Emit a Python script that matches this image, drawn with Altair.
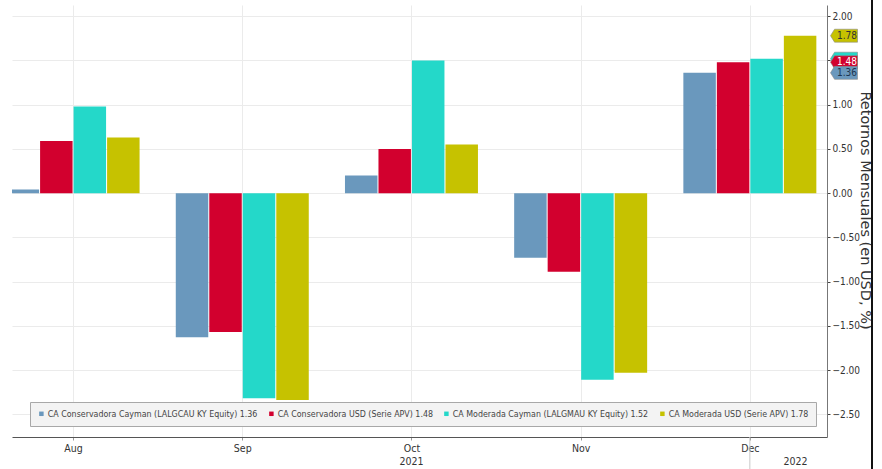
import altair as alt
import pandas as pd

months = ["Aug", "Sep", "Oct", "Nov", "Dec"]
series = [
    "CA Conservadora Cayman (LALGCAU KY Equity) 1.36",
    "CA Conservadora USD (Serie APV) 1.48",
    "CA Moderada Cayman (LALGMAU KY Equity) 1.52",
    "CA Moderada USD (Serie APV) 1.78",
]
colors = ["#6a98bd", "#d2002e", "#24d8c9", "#c6c200"]
cons_cayman = [0.04, -1.63, 0.20, -0.73, 1.36]
cons_usd = [0.59, -1.57, 0.50, -0.89, 1.48]
mod_cayman = [0.98, -2.32, 1.50, -2.11, 1.52]
mod_usd = [0.63, -2.34, 0.55, -2.03, 1.78]
last_values = [1.36, 1.48, 1.52, 1.78]
last_labels = ["1.36", "1.48", "", "1.78"]
tag_text_colors = ["#1d3550", "#ffffff", "#1d3550", "#333333"]
tag_draw_order = [2, 1, 0, 3]
years = ["2021", "2022"]
year_pos = [2.0, 4.27]

all_vals = [cons_cayman, cons_usd, mod_cayman, mod_usd]
bw = 0.198
rows = []
for i, s in enumerate(series):
    for m, v in enumerate(all_vals[i]):
        rows.append({
            "series": s,
            "month": m,
            "value": v,
            "x0": m + (i - 2) * bw + 0.003,
            "x1": m + (i - 1) * bw - 0.003,
        })
df = pd.DataFrame(rows)

year_df = pd.DataFrame({"year": years, "pos": year_pos})

FONT = "DejaVu Sans Condensed, Liberation Sans, Arial, sans-serif"
xdom = [-0.361, 4.456]
ydom = [-2.757, 2.127]

xscale = alt.Scale(domain=xdom, nice=False, zero=False)
yscale = alt.Scale(domain=ydom, nice=False, zero=False)
cscale = alt.Scale(domain=series, range=colors)

color = alt.Color(
    "series:N",
    scale=cscale,
    legend=alt.Legend(
        title=None,
        orient="none",
        legendX=18,
        legendY=397,
        direction="horizontal",
        columns=4,
        fillColor="#f3f3f3",
        strokeColor="#a8a8a8",
        padding=7,
        symbolType="square",
        symbolSize=20,
        symbolStrokeWidth=0,
        symbolOffset=0,
        labelFont=FONT,
        labelFontSize=8.8,
        labelColor="#444444",
        labelLimit=0,
        labelOffset=2,
        columnPadding=9,
    ),
)

bars = alt.Chart(df).mark_bar(clip=True).encode(
    x=alt.X(
        "x0:Q",
        scale=xscale,
        axis=alt.Axis(
            values=[0, 1, 2, 3, 4],
            labelExpr="['Aug','Sep','Oct','Nov','Dec'][datum.value]",
            title=None,
            grid=True,
            gridColor="#ebebeb",
            domainColor="#555555",
            tickColor="#999999",
            tickSize=3,
            labelFont=FONT,
            labelFontSize=10.5,
            labelColor="#333333",
            labelPadding=3,
        ),
    ),
    x2="x1:Q",
    y=alt.Y(
        "value:Q",
        scale=yscale,
        axis=alt.Axis(
            orient="right",
            values=[-2.5, -2.0, -1.5, -1.0, -0.5, 0.0, 0.5, 1.0, 1.5, 2.0],
            labelExpr="datum.value == 1.5 ? '' : format(datum.value, '.2f')",
            title="Retornos Mensuales (en USD, %)",
            titleFont="DejaVu Sans",
            titleFontSize=14.5,
            titleFontWeight="normal",
            titleColor="#333333",
            titleAngle=90,
            titleAlign="center",
            titleBaseline="middle",
            titleX=37.5,
            titleY=205,
            grid=True,
            gridColor="#ebebeb",
            domainColor="#777777",
            tickColor="#444444",
            tickSize=3,
            labelFont=FONT,
            labelFontSize=10,
            labelColor="#333333",
            labelPadding=2,
        ),
    ),
    y2=alt.datum(0),
    color=color,
)

tag_shape = "M-1,0 L-0.7,-0.48 L1,-0.48 L1,0.48 L-0.7,0.48 Z"
tag_layers = []
for k in tag_draw_order:
    tdf = pd.DataFrame({
        "series": [series[k]],
        "value": [last_values[k]],
        "label": [last_labels[k]],
        "tcolor": [tag_text_colors[k]],
    })
    shape = alt.Chart(tdf).mark_point(
        shape=tag_shape, filled=True, size=729, opacity=1,
        stroke="#8a8a8a", strokeWidth=0.6,
    ).encode(
        x=alt.value(832),
        y=alt.Y("value:Q", scale=yscale),
        color=alt.Color("series:N", scale=cscale, legend=None),
    )
    tag_layers.append(shape)
    if last_labels[k]:
        txt = alt.Chart(tdf).mark_text(
            font=FONT, fontSize=10, align="center", baseline="middle"
        ).encode(
            x=alt.value(835),
            y=alt.Y("value:Q", scale=yscale),
            text="label:N",
            color=alt.Color("tcolor:N", scale=None),
        )
        tag_layers.append(txt)

year_text = alt.Chart(year_df).mark_text(
    font=FONT, fontSize=10.5, color="#333333", baseline="middle"
).encode(
    x=alt.X("pos:Q", scale=xscale),
    y=alt.value(457),
    text="year:N",
)

sep_rule = alt.Chart(pd.DataFrame({"pos": [4]})).mark_rule(color="#c8c8c8").encode(
    x=alt.X("pos:Q", scale=xscale),
    y=alt.value(432),
    y2=alt.value(470),
)

border = alt.Chart(pd.DataFrame({"a": [0]})).mark_rule(color="#111111", strokeWidth=2).encode(
    x=alt.value(860),
    y=alt.value(-6),
    y2=alt.value(470),
)

chart = alt.layer(bars, sep_rule, year_text, *tag_layers, border).properties(
    width=815,
    height=432,
    autosize=alt.AutoSizeParams(type="none"),
    padding={"left": 12, "top": 5, "right": 55, "bottom": 32},
    background="#ffffff",
).configure_view(stroke=None)

chart.save("out.html", embed_options={"renderer": "svg", "actions": False})
